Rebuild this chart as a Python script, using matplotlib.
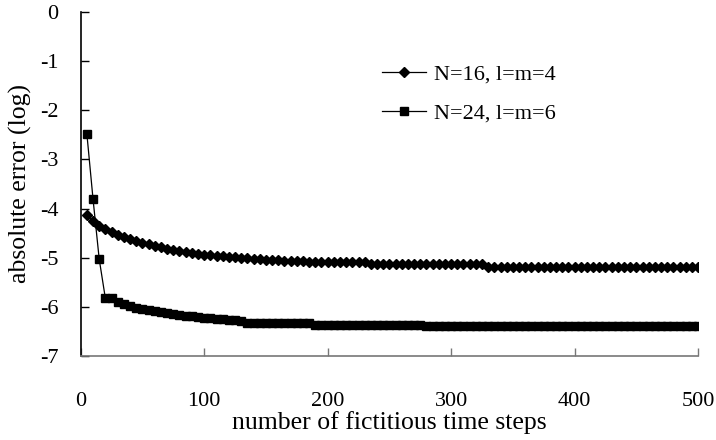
import matplotlib
matplotlib.use('Agg')
import matplotlib.pyplot as plt

# fictitious time steps (every 5 steps)
steps = list(range(5, 505, 5))

# N=16, l=m=4
err_n16 = [
    -4.13, -4.25, -4.35, -4.42, -4.48, -4.53, -4.58, -4.62, -4.66, -4.70,
    -4.73, -4.76, -4.79, -4.82, -4.84, -4.86, -4.88, -4.90, -4.92, -4.94,
    -4.95, -4.96, -4.97, -4.98, -4.99, -5.00, -5.01, -5.02, -5.03, -5.04,
    -5.05, -5.05, -5.06, -5.06, -5.07, -5.07, -5.08, -5.09, -5.09, -5.09,
    -5.09, -5.09, -5.09, -5.09, -5.09, -5.09, -5.12, -5.12, -5.12, -5.12,
    -5.12, -5.12, -5.12, -5.12, -5.12, -5.12, -5.12, -5.12, -5.12, -5.12,
    -5.12, -5.12, -5.12, -5.12, -5.12, -5.18, -5.18, -5.18, -5.18, -5.18,
    -5.18, -5.18, -5.18, -5.18, -5.18, -5.18, -5.18, -5.18, -5.18, -5.18,
    -5.18, -5.18, -5.18, -5.18, -5.18, -5.18, -5.18, -5.18, -5.18, -5.18,
    -5.18, -5.18, -5.18, -5.18, -5.18, -5.18, -5.18, -5.18, -5.18, -5.18,
]

# N=24, l=m=6
err_n24 = [
    -2.48, -3.81, -5.03, -5.83, -5.83, -5.90, -5.94, -5.98, -6.02, -6.05,
    -6.07, -6.09, -6.11, -6.13, -6.15, -6.17, -6.18, -6.19, -6.21, -6.22,
    -6.23, -6.24, -6.25, -6.26, -6.27, -6.28, -6.32, -6.32, -6.32, -6.32,
    -6.32, -6.32, -6.32, -6.32, -6.32, -6.32, -6.32, -6.36, -6.36, -6.36,
    -6.36, -6.36, -6.36, -6.36, -6.36, -6.36, -6.36, -6.36, -6.36, -6.36,
    -6.36, -6.36, -6.36, -6.36, -6.36, -6.40, -6.40, -6.40, -6.40, -6.40,
    -6.40, -6.40, -6.40, -6.40, -6.40, -6.40, -6.40, -6.40, -6.40, -6.40,
    -6.40, -6.40, -6.40, -6.40, -6.40, -6.40, -6.40, -6.40, -6.40, -6.40,
    -6.40, -6.40, -6.40, -6.40, -6.40, -6.40, -6.40, -6.40, -6.40, -6.40,
    -6.40, -6.40, -6.40, -6.40, -6.40, -6.40, -6.40, -6.40, -6.40, -6.40,
]

plt.rcParams['font.family'] = ['Liberation Serif', 'DejaVu Serif']
plt.rcParams['font.size'] = 16
plt.rcParams['axes.unicode_minus'] = False

fig = plt.figure(figsize=(7.16, 4.4), dpi=100)
ax = fig.add_axes([0.1127, 0.191, 0.8623, 0.7817])

ax.plot(steps, err_n16, color='black', lw=0.9, marker='D', ms=5.5,
        label='N=16, l=m=4')
ax.plot(steps, err_n24, color='black', lw=0.9, marker='s', ms=6,
        label='N=24, l=m=6')

ax.set_xlim(0, 500)
ax.set_ylim(-7, 0)
ax.set_xticks([0, 100, 200, 300, 400, 500])
ax.set_yticks(range(-7, 1))

for side in ['top', 'right']:
    ax.spines[side].set_visible(False)
ax.spines['left'].set_linewidth(1.2)
ax.spines['bottom'].set_color('#777777')
ax.spines['bottom'].set_linewidth(1.2)

ax.tick_params(axis='y', direction='in', length=6, width=1, pad=16)
ax.tick_params(axis='x', direction='in', length=6, width=1, pad=26,
               color='#777777')

ax.set_xlabel('number of fictitious time steps', fontsize=18.5, labelpad=0)
ax.set_ylabel('absolute error (log)', fontsize=18.5, labelpad=6)

fig.legend(loc='upper left', bbox_to_anchor=(0.533, 0.855), frameon=False,
           borderpad=0, borderaxespad=0, handlelength=2.0,
           handletextpad=0.35, labelspacing=0.85,
           markerscale=0.9)

fig.savefig('out.png', dpi=100)
